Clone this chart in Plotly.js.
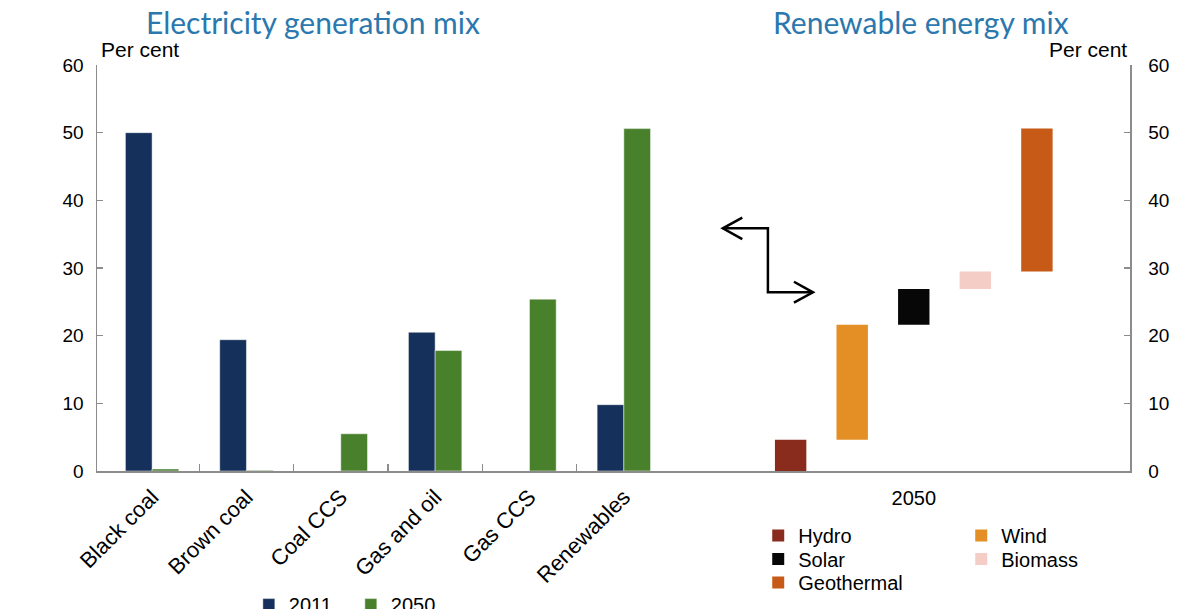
<!DOCTYPE html>
<html><head><meta charset="utf-8">
<script src="https://cdn.plot.ly/plotly-3.0.1.min.js"></script>
<style>html,body{margin:0;padding:0;background:#fff}#chart{width:1180px;height:609px}</style>
</head><body><div id="chart"></div>
<script>
// ---- data ----
const categories = ['Black coal', 'Brown coal', 'Coal CCS', 'Gas and oil', 'Gas CCS', 'Renewables'];
const share2011 = [50.0, 19.4, 0, 20.5, 0, 9.8];
const share2050 = [0.3, 0.1, 5.5, 17.8, 25.4, 50.6];
const renewSources = ['Hydro', 'Wind', 'Solar', 'Biomass', 'Geothermal'];
const renewShare2050 = [4.6, 17.0, 5.3, 2.6, 21.1];
const renewYearLabel = ['2050'];
const yTicks = [0, 10, 20, 30, 40, 50, 60];

// ---- styles ----
const font = 'Liberation Sans, Arial, sans-serif';
const titleFont = 'Lato, Noto Sans, sans-serif';
const axisGrey = '#8c8c8c';
const renewColors = ['#8a2c1d', '#e38f25', '#070707', '#f4cec6', '#c85a18'];
// legend row each renewable source goes in (two columns per row)
const renewLegendRow = ['legend2', 'legend2', 'legend3', 'legend3', 'legend4'];

const traces = [
  {type: 'bar', name: '2011', x: categories, y: share2011, xaxis: 'x', yaxis: 'y',
   marker: {color: '#15305a', line: {color: 'rgba(255,255,255,0.6)', width: 0.8}}, legend: 'legend'},
  {type: 'bar', name: '2050', x: categories, y: share2050, xaxis: 'x', yaxis: 'y',
   marker: {color: '#48802c', line: {color: 'rgba(255,255,255,0.6)', width: 0.8}}, legend: 'legend'}
];
let base = 0;
renewSources.forEach((s, i) => {
  traces.push({type: 'bar', name: s, x: [i], y: [renewShare2050[i]], base: [base],
    xaxis: 'x2', yaxis: 'y', width: 0.51, offset: -0.255,
    marker: {color: renewColors[i]}, legend: renewLegendRow[i]});
  base += renewShare2050[i];
});
// invisible helper traces so the decorative axes are drawn
traces.push({type: 'scatter', x: [0], y: [0], xaxis: 'x3', yaxis: 'y', mode: 'markers',
  marker: {opacity: 0}, showlegend: false, hoverinfo: 'skip'});
traces.push({type: 'scatter', x: [0], y: [0], xaxis: 'x2', yaxis: 'y2', mode: 'markers',
  marker: {opacity: 0}, showlegend: false, hoverinfo: 'skip'});

const splitFrac = (671 - 97) / 1033;
const leftRange = [-0.584, categories.length - 0.5];
const boundaries = categories.map((c, i) => i + 0.5);
const rightRange = [-1.943, 5.512];

const yAxisCommon = {range: [0, 60], tickvals: yTicks, ticks: 'inside', ticklen: 6, tickwidth: 1.5,
  tickcolor: axisGrey, showline: true, linecolor: axisGrey, linewidth: 1.5, showgrid: false,
  zeroline: false, tickfont: {family: font, size: 19, color: '#000'}, fixedrange: true};

// arrow decoration (x2 / y coordinates)
const arrowLine = {color: '#000', width: 2.5};
const shapes = [
  {type: 'path', xref: 'x2', yref: 'y', path: 'M -1.101,35.86 L -0.369,35.86 L -0.369,26.40 L 0.363,26.40', line: arrowLine},
  {type: 'path', xref: 'x2', yref: 'y', path: 'M -0.785,37.43 L -1.101,35.86 L -0.785,34.28', line: arrowLine},
  {type: 'path', xref: 'x2', yref: 'y', path: 'M 0.054,27.97 L 0.363,26.40 L 0.054,24.87', line: arrowLine}
];

const legendFont = {family: font, size: 20, color: '#000'};
function legendRow(x, y, entrywidth) {
  return {orientation: 'h', x: x, xanchor: 'left', y: y, yanchor: 'top', font: legendFont,
    entrywidth: entrywidth, bgcolor: 'rgba(0,0,0,0)', traceorder: 'normal'};
}

const layout = {
  width: 1180, height: 609,
  margin: {l: 97, r: 50, t: 65, b: 138, autoexpand: false},
  paper_bgcolor: '#fff', plot_bgcolor: 'rgba(0,0,0,0)',
  barmode: 'group', bargap: 0.434, bargroupgap: 0,
  font: {family: font, size: 19, color: '#000'},
  xaxis: {type: 'category', domain: [0, splitFrac], range: leftRange, anchor: 'y',
    ticks: '', tickangle: -45, ticklabelstandoff: 3, showline: true, linecolor: axisGrey, linewidth: 1.5,
    showgrid: false, zeroline: false, tickfont: {family: font, size: 22, color: '#000'}, fixedrange: true},
  xaxis3: {overlaying: 'x', anchor: 'y', range: leftRange, tickvals: boundaries, showticklabels: false,
    ticks: 'inside', ticklen: 7, tickwidth: 1.5, tickcolor: axisGrey, showline: false, showgrid: false,
    zeroline: false, fixedrange: true},
  xaxis2: {domain: [splitFrac, 1], range: rightRange, anchor: 'y', tickvals: [(renewSources.length - 1) / 2],
    ticktext: renewYearLabel, ticks: '', ticklabelstandoff: 8, showline: true, linecolor: axisGrey, linewidth: 1.5,
    showgrid: false, zeroline: false, tickfont: {family: font, size: 20, color: '#000'}, fixedrange: true},
  yaxis: Object.assign({anchor: 'x', side: 'left', ticklabelstandoff: 8}, yAxisCommon),
  yaxis2: Object.assign({overlaying: 'y', anchor: 'x2', side: 'right', ticklabelstandoff: 13}, yAxisCommon),
  legend: legendRow(0.147, -0.281, 57),
  legend2: legendRow(0.6401, -0.1108, 158),
  legend3: legendRow(0.6401, -0.1687, 158),
  legend4: legendRow(0.6401, -0.2266, 158),
  shapes: shapes,
  annotations: [
    {text: 'Electricity generation mix', xref: 'paper', yref: 'paper', x: (313 - 97) / 1033, y: 1.0,
     xanchor: 'center', yanchor: 'bottom', yshift: 23, showarrow: false,
     font: {family: titleFont, size: 30, color: '#2b78ae'}},
    {text: 'Renewable energy mix', xref: 'paper', yref: 'paper', x: (921 - 97) / 1033, y: 1.0,
     xanchor: 'center', yanchor: 'bottom', yshift: 23, showarrow: false,
     font: {family: titleFont, size: 30, color: '#2b78ae'}},
    {text: 'Per cent', xref: 'paper', yref: 'paper', x: 0, y: 1, xanchor: 'left', yanchor: 'bottom',
     xshift: 2, yshift: 2, showarrow: false, font: {family: font, size: 21, color: '#000'}},
    {text: 'Per cent', xref: 'paper', yref: 'paper', x: 1, y: 1, xanchor: 'right', yanchor: 'bottom',
     xshift: -1, yshift: 2, showarrow: false, font: {family: font, size: 21, color: '#000'}}
  ],
  showlegend: true
};

Plotly.newPlot('chart', traces, layout, {displayModeBar: false, staticPlot: true});
</script>
</body></html>
